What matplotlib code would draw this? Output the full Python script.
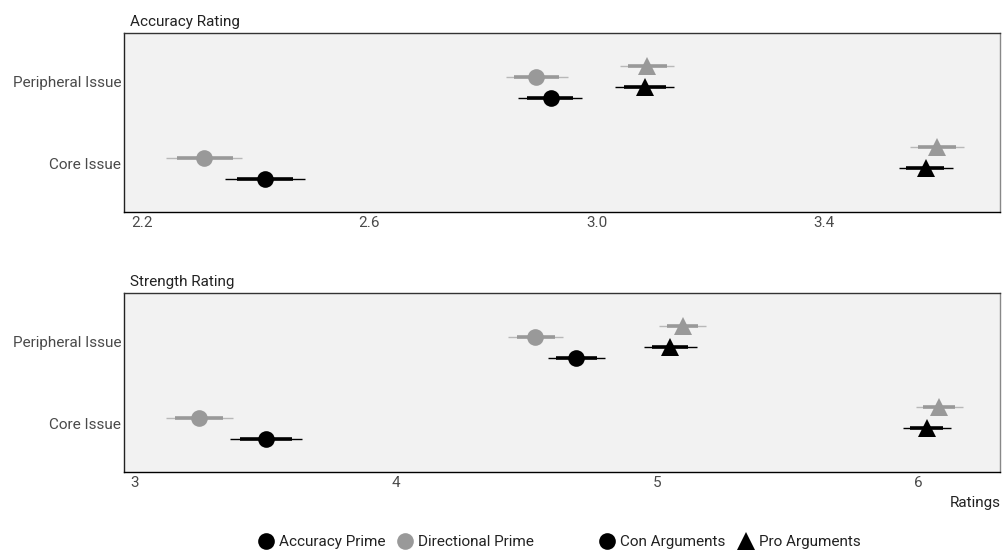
import numpy as np
import matplotlib.pyplot as plt
from matplotlib.lines import Line2D

plt.rcParams['font.family'] = ['Roboto', 'DejaVu Sans']

# categories on the y axis (bottom to top)
categories = ['Core Issue', 'Peripheral Issue']

# group order: (Con, Accuracy), (Con, Directional), (Pro, Accuracy), (Pro, Directional)
groups = ['con_acc', 'con_dir', 'pro_acc', 'pro_dir']

# Accuracy Rating panel, values per group for [Core, Peripheral]
acc_mean = [[2.417, 2.919], [2.309, 2.893], [3.580, 3.085], [3.599, 3.088]]
acc_lo95 = [[2.346, 2.861], [2.242, 2.840], [3.532, 3.033], [3.552, 3.041]]
acc_hi95 = [[2.487, 2.975], [2.376, 2.949], [3.627, 3.136], [3.647, 3.137]]
acc_lo66 = [[2.367, 2.878], [2.262, 2.854], [3.545, 3.048], [3.566, 3.055]]
acc_hi66 = [[2.466, 2.959], [2.359, 2.933], [3.611, 3.122], [3.633, 3.123]]

# Strength Rating panel
str_mean = [[3.502, 4.690], [3.245, 4.533], [6.034, 5.050], [6.080, 5.100]]
str_lo95 = [[3.364, 4.582], [3.119, 4.429], [5.943, 4.950], [5.992, 5.008]]
str_hi95 = [[3.640, 4.801], [3.375, 4.640], [6.126, 5.153], [6.172, 5.188]]
str_lo66 = [[3.402, 4.613], [3.153, 4.464], [5.969, 4.981], [6.019, 5.038]]
str_hi66 = [[3.602, 4.770], [3.337, 4.609], [6.096, 5.119], [6.142, 5.157]]

acc_ticks = [2.2, 2.6, 3.0, 3.4]
acc_ticklabels = ['2.2', '2.6', '3.0', '3.4']
str_ticks = [3, 4, 5, 6]
str_ticklabels = ['3', '4', '5', '6']

# style per group
offsets = [-0.195, 0.065, -0.065, 0.195]
markers = ['o', 'o', '^', '^']
pt_colors = ['black', '#999999', 'black', '#999999']
thin_colors = ['black', '#b8b8b8', 'black', '#b8b8b8']
thick_colors = ['black', '#999999', 'black', '#999999']
text_color = '#4a4a4a'
fs = 11

fig = plt.figure(figsize=(10.02, 5.55), dpi=100)
ax_top = fig.add_axes([124 / 1002, 1 - 212 / 555, 876 / 1002, 179 / 555])
ax_bot = fig.add_axes([124 / 1002, 1 - 472 / 555, 876 / 1002, 179 / 555])


def draw_panel(ax, mean, lo95, hi95, lo66, hi66, xlim, ticks, ticklabels, title):
    ypos = np.arange(1, len(categories) + 1)
    for g in range(len(groups)):
        y = ypos + offsets[g]
        ax.hlines(y, lo95[g], hi95[g], color=thin_colors[g], lw=1.0, zorder=2)
        ax.hlines(y, lo66[g], hi66[g], color=thick_colors[g], lw=2.6, zorder=3)
        ms = 12 if markers[g] == 'o' else 13
        ax.plot(mean[g], y, linestyle='none', marker=markers[g], ms=ms,
                color=pt_colors[g], markeredgewidth=0, zorder=4)
    ax.set_xlim(*xlim)
    ax.set_ylim(0.4, 2.6)
    ax.set_facecolor('#f2f2f2')
    ax.set_yticks(ypos)
    ax.set_yticklabels(categories)
    ax.set_xticks(ticks)
    ax.set_xticklabels(ticklabels)
    ax.tick_params(length=0, labelsize=fs, labelcolor=text_color)
    ax.tick_params(axis='x', pad=3)
    ax.tick_params(axis='y', pad=2)
    ax.spines['left'].set_color('#222222')
    ax.spines['bottom'].set_color('black')
    ax.spines['top'].set_color('#333333')
    ax.spines['right'].set_color('#888888')
    for s in ax.spines.values():
        s.set_linewidth(1.0)
    ax.set_title(title, loc='left', fontsize=fs, color='#222222', pad=5, x=0.007)


draw_panel(ax_top, acc_mean, acc_lo95, acc_hi95, acc_lo66, acc_hi66,
           (2.168, 3.71), acc_ticks, acc_ticklabels, 'Accuracy Rating')
draw_panel(ax_bot, str_mean, str_lo95, str_hi95, str_lo66, str_hi66,
           (2.958, 6.314), str_ticks, str_ticklabels, 'Strength Rating')

fig.text(0.999, 1 - 503 / 555, 'Ratings', ha='right', va='center',
         fontsize=fs, color='#222222')

# legends
prime_handles = [
    Line2D([], [], linestyle='none', marker='o', ms=12, color='black', markeredgewidth=0),
    Line2D([], [], linestyle='none', marker='o', ms=12, color='#999999', markeredgewidth=0),
]
arg_handles = [
    Line2D([], [], linestyle='none', marker='o', ms=12, color='black', markeredgewidth=0),
    Line2D([], [], linestyle='none', marker='^', ms=13, color='black', markeredgewidth=0),
]
leg_kw = dict(ncol=2, frameon=False, fontsize=fs, handletextpad=0.15,
              columnspacing=0.6, handlelength=1.4, borderaxespad=0)
leg1 = fig.legend(prime_handles, ['Accuracy Prime', 'Directional Prime'],
                  loc='center', bbox_to_anchor=(0.394, 1 - 542 / 555), **leg_kw)
leg2 = fig.legend(arg_handles, ['Con Arguments', 'Pro Arguments'],
                  loc='center', bbox_to_anchor=(0.727, 1 - 542 / 555), **leg_kw)
for leg in (leg1, leg2):
    for t in leg.get_texts():
        t.set_color('#222222')

fig.savefig('out.png', dpi=100)
